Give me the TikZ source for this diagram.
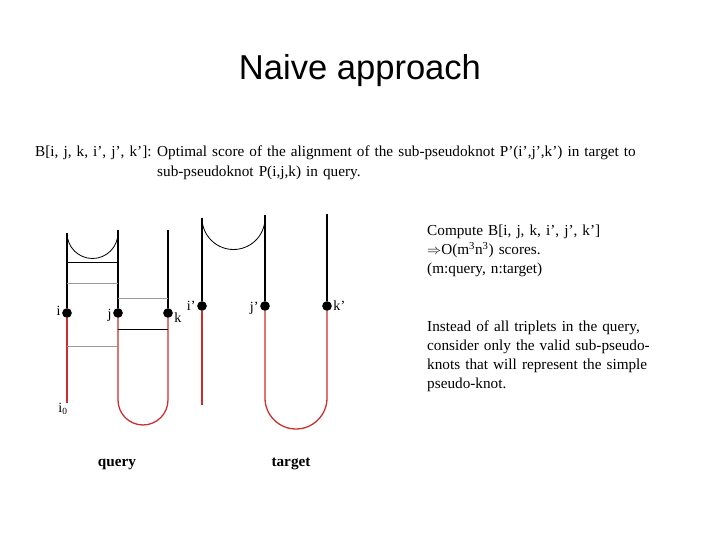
\documentclass[tikz,border=0pt]{standalone}
\usepackage{fontspec}
\setmainfont{Liberation Serif}
\newfontfamily\titlefont{Liberation Sans}
\usetikzlibrary{positioning}
\definecolor{loopred}{RGB}{205,45,45}

\begin{document}
\begin{tikzpicture}[x=0.03cm, y=0.03cm,
  strand/.style={line width=1.1pt},
  loop/.style={line width=1.1pt, loopred},
  bond/.style={line width=0.7pt},
  rung/.style={line width=0.7pt, black!40},
  base/.style={circle, fill, inner sep=0pt, minimum size=0.29cm},
  lbl/.style={font=\fontsize{12}{12}\selectfont, inner sep=1pt},
  txt/.style={font=\fontsize{13}{16.2}\selectfont, inner sep=0pt,
              anchor=base west, align=left, text width=9cm}]
  \useasboundingbox (0,0) rectangle (720,540);

  % Title
  \node[font=\titlefont\fontsize{29.5}{29.5}\selectfont, anchor=base] (title)
    at (360,460) {Naive approach};

  % Definition of B
  \node[txt, text width=4cm] (defhead) at (35,383) {B[i, j, k, i’, j’, k’]:};
  \node[txt, text width=16cm, font=\fontsize{13}{17}\selectfont] (defbody) at (157,383)
    {Optimal score of the alignment of the sub-pseudoknot P’(i’,j’,k’) in target to\\
     sub-pseudoknot P(i,j,k) in query.};

  % Notes on the right
  \node[txt] (compute) at (427,304)
    {Compute B[i, j, k, i’, j’, k’]\\
     $\Rightarrow$O(m\textsuperscript{3}n\textsuperscript{3}) scores.\\
     (m:query, n:target)};
  \node[txt] (instead) at (427,208)
    {Instead of all triplets in the query,\\
     consider only the valid sub-pseudo-\\
     knots that will represent the simple\\
     pseudo-knot.};

  % Query
  \coordinate (itop) at (67,307);
  \coordinate (jtop) at (118,310);
  \coordinate (ktop) at (168,310);
  \node[base, label={[lbl,yshift=1.5pt]left:i}] (i) at (67,227) {};
  \node[base, label={[lbl,yshift=-2pt]left:j}] (j) at (118,227) {};
  \node[base, label={[lbl,yshift=-4pt]right:k}] (k) at (168,227) {};
  \coordinate (ibot) at (67,137);
  \coordinate (jbot) at (118,140);

  \draw[strand] (itop) -- (i);
  \draw[strand] (jtop) -- (j);
  \draw[strand] (ktop) -- (k);
  \draw[bond] (itop) arc[start angle=180, end angle=360, radius=25.5];
  \draw[loop] (i) -- (ibot);
  \draw[loop] (j) -- (jbot) arc[start angle=180, end angle=360, radius=25] -- (k);

  % stacked pairs
  \draw[bond] (i |- 0,278) -- (j |- 0,278);
  \draw[rung] (i |- 0,257) -- (j |- 0,257);
  \draw[rung] (j |- 0,242) -- (k |- 0,242);
  \draw[bond] (j |- 0,211) -- (k |- 0,211);
  \draw[rung] (i |- 0,194) -- (j |- 0,194);

  \node[lbl] (izero) at (63,131) {i\textsubscript{0}};
  \node[font=\fontsize{13}{13}\selectfont\bfseries, anchor=base] (query) at (117,73) {query};

  % Target
  \coordinate (iptop) at (202,322);
  \coordinate (jptop) at (265,325);
  \coordinate (kptop) at (327,326);
  \node[base, label={[lbl]left:i'}] (ip) at (202,234) {};
  \node[base, label={[lbl,yshift=-2pt]left:j'}] (jp) at (265,234) {};
  \node[base, label={[lbl]right:k'}] (kp) at (327,234) {};
  \coordinate (ipbot) at (202,135);
  \coordinate (jpbot) at (265,142);

  \draw[strand] (iptop) -- (ip);
  \draw[strand] (jptop) -- (jp);
  \draw[strand] (kptop) -- (kp);
  \draw[bond] (iptop) arc[start angle=180, end angle=360, radius=31.5];
  \draw[loop] (ip) -- (ipbot);
  \draw[loop] (jp) -- (jpbot) arc[start angle=180, end angle=360, radius=31] -- (kp);

  \node[font=\fontsize{13}{13}\selectfont\bfseries, anchor=base] (target) at (291,73) {target};
\end{tikzpicture}
\end{document}
